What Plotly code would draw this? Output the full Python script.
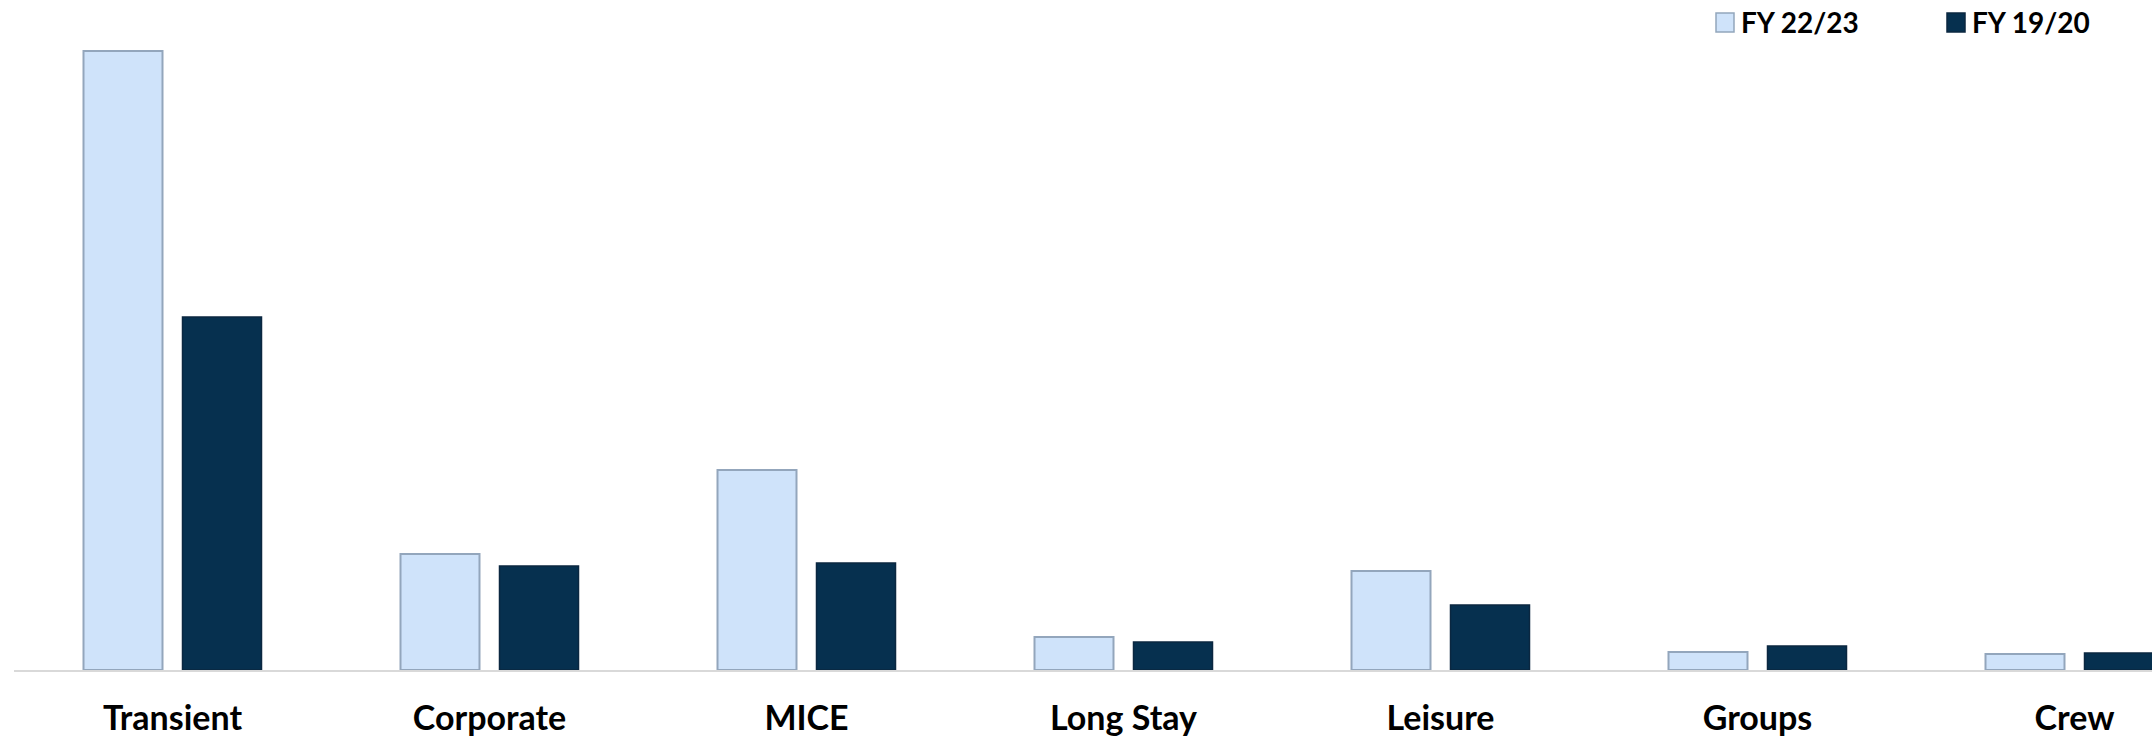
import plotly.graph_objects as go

categories = ["Transient", "Corporate", "MICE", "Long Stay", "Leisure", "Groups", "Crew"]
fy2223 = [61.9, 11.6, 20.0, 3.3, 9.9, 1.8, 1.6]
fy1920 = [35.3, 10.4, 10.7, 2.8, 6.5, 2.4, 1.7]
series_names = ["FY 22/23", "FY 19/20"]

W, H = 2152, 738
ML, MR, MT, MB = 14, 0, 10, 68
SLOT = 317.0  # px per category
BARW = 79.0
GAP = 20.0

light = "#cfe3fa"
light_line = "#93a6bc"
dark = "#06304f"
dark_line = "#0b2740"

plot_w = W - ML - MR
xr_end = plot_w / SLOT - 0.5

fig = go.Figure()
fig.add_trace(go.Bar(
    x=categories, y=fy2223, name=series_names[0],
    width=BARW / SLOT, offset=-(BARW + GAP / 2) / SLOT,
    marker=dict(color=light, line=dict(color=light_line, width=2)),
    showlegend=False,
))
fig.add_trace(go.Bar(
    x=categories, y=fy1920, name=series_names[1],
    width=BARW / SLOT, offset=(GAP / 2) / SLOT,
    marker=dict(color=dark, line=dict(color=dark_line, width=1.5)),
    showlegend=False,
))

# manual legend (paper coordinates)
def px2paper_x(px):
    return (px - ML) / plot_w

def py2paper_y(py):
    return (H - MB - py) / (H - MT - MB)

legend_items = [
    (series_names[0], 1716, light, light_line),
    (series_names[1], 1947, dark, dark_line),
]
shapes = []
annotations = []
for name, x0, fill, edge in legend_items:
    shapes.append(dict(
        type="rect", xref="paper", yref="paper",
        x0=px2paper_x(x0), x1=px2paper_x(x0 + 18),
        y0=py2paper_y(32), y1=py2paper_y(13),
        fillcolor=fill, line=dict(color=edge, width=1.5),
    ))
    annotations.append(dict(
        text="<b>" + name + "</b>", xref="paper", yref="paper",
        x=px2paper_x(x0 + 23), y=py2paper_y(22.5),
        xanchor="left", yanchor="middle", showarrow=False,
        font=dict(family="Lato", size=28, color="#000000", weight="bold"),
    ))

fig.update_layout(
    width=W, height=H,
    margin=dict(l=ML, r=MR, t=MT, b=MB, pad=0),
    paper_bgcolor="white", plot_bgcolor="white",
    barmode="overlay",
    showlegend=False,
    shapes=shapes,
    annotations=annotations,
    xaxis=dict(
        type="category", range=[-0.5, xr_end],
        showline=True, linecolor="#d9d9d9", linewidth=2,
        showgrid=False, zeroline=False, ticks="",
        tickfont=dict(family="Lato", size=34, color="#000000", weight="bold"),
        ticklabelstandoff=17, automargin=False,
    ),
    yaxis=dict(
        range=[0, 66], showgrid=False, zeroline=False, showline=False,
        showticklabels=False, ticks="", automargin=False,
    ),
)

fig.write_html("out.html")
